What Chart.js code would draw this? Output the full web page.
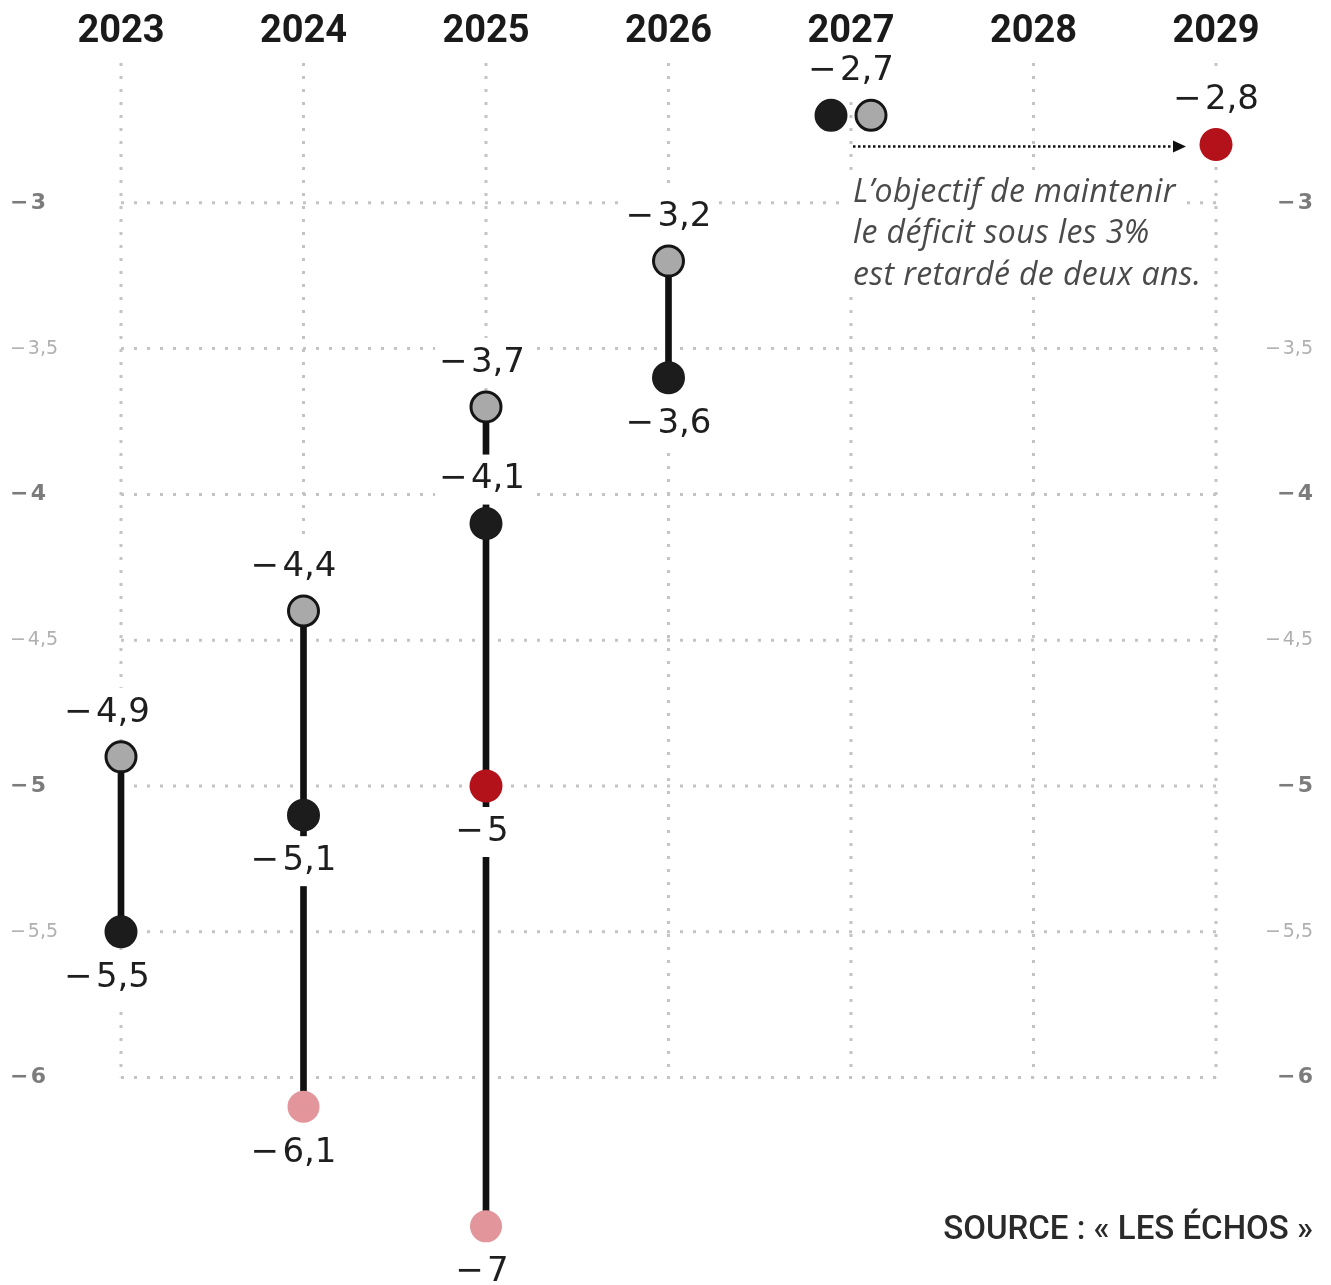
<!DOCTYPE html>
<html lang="fr">
<head>
  <meta charset="UTF-8" />
  <title>Déficit public</title>
  <script src="https://cdn.jsdelivr.net/npm/chart.js"></script>
  <style>
    body { margin: 0; background: #fff; }
    #wrap { width: 1331px; height: 1285px; position: relative; }
  </style>
</head>
<body>
  <div id="wrap"><canvas id="deficitChart"></canvas></div>

  <script>
    // données (déficit public, % du PIB)
    const years = ['2023', '2024', '2025', '2026', '2027', '2028', '2029'];
    const grey  = [-4.9, -4.4, -3.7, -3.2, -2.7, null, null];
    const black = [-5.5, -5.1, -4.1, -3.6, -2.7, null, null];
    const red   = [null, null, -5, null, null, null, -2.8];
    const pink  = [null, -6.1, -7, null, null, null, null];
    const yTicks = [-3, -3.5, -4, -4.5, -5, -5.5, -6];

    // position des étiquettes : au-dessus ou en dessous du point
    const sideGrey  = ['up', 'up', 'up', 'up', 'up', null, null];
    const sideBlack = ['down', 'down', 'up', 'down', 'up', null, null];
    const sideRed   = [null, null, 'down', null, null, null, 'up'];
    const sidePink  = [null, 'down', 'down', null, null, null, null];
    // léger décalage horizontal des étiquettes par année (px)
    const labelNudge = [-14, -10, -4, 0, 0, 0, 0];

    // l'axe est coupé sous -6,5 : le point à -7 est posé en bas
    const AXIS_FLOOR = -6.51;
    const plot = arr => arr.map(v => v === null ? null : Math.max(v, AXIS_FLOOR));

    const ranges = years.map((y, i) => {
      const vals = [grey[i], black[i], red[i], pink[i]].filter(v => v !== null).map(v => Math.max(v, AXIS_FLOOR));
      if (vals.length < 2 || Math.min(...vals) === Math.max(...vals)) return null;
      return [Math.min(...vals), Math.max(...vals)];
    });

    const fmt = v => '\u2212\u200A' + String(Math.abs(v)).replace('.', ',');
    const isInt = c => c.tick ? Number.isInteger(c.tick.value) : true;

    // grille en pointillés
    const gridPlugin = {
      id: 'grid',
      beforeDatasetsDraw(chart) {
        const { ctx, scales: { x, y } } = chart;
        ctx.save();
        ctx.strokeStyle = '#c4c4c4';
        ctx.lineWidth = 3;
        ctx.setLineDash([3, 10]);
        years.forEach((yr, i) => {
          const px = x.getPixelForValue(i);
          ctx.beginPath();
          ctx.moveTo(px, chart.chartArea.top + 6);
          ctx.lineTo(px, y.getPixelForValue(-6));
          ctx.stroke();
        });
        yTicks.forEach(v => {
          const py = y.getPixelForValue(v);
          ctx.beginPath();
          ctx.moveTo(x.getPixelForValue(0), py);
          ctx.lineTo(x.getPixelForValue(years.length - 1), py);
          ctx.stroke();
        });
        ctx.restore();
      }
    };

    // 2027 : les deux points identiques sont décalés côte à côte
    const dodgePlugin = {
      id: 'dodge',
      afterDatasetsUpdate(chart) {
        const g = chart.getDatasetMeta(1).data;
        const b = chart.getDatasetMeta(2).data;
        years.forEach((yr, i) => {
          if (grey[i] !== null && grey[i] === black[i]) {
            b[i].x -= 20;
            g[i].x += 20;
          }
        });
      }
    };

    // étiquettes de valeurs, annotation et source
    const labelPlugin = {
      id: 'labels',
      afterDatasetDraw(chart, args) {
        if (args.index !== 0) return;
        const { ctx, scales: { x, y } } = chart;
        ctx.save();
        ctx.font = '34px "DejaVu Sans"';
        ctx.textAlign = 'center';
        ctx.textBaseline = 'middle';
        const groups = [[grey, sideGrey], [black, sideBlack], [red, sideRed], [pink, sidePink]];
        groups.forEach(([vals, sides], gi) => {
          vals.forEach((v, i) => {
            if (v === null || !sides[i]) return;
            if (gi === 1 && grey[i] === v) return; // même valeur : une seule étiquette
            const px = x.getPixelForValue(i) + labelNudge[i];
            const py = y.getPixelForValue(Math.max(v, AXIS_FLOOR)) + (sides[i] === 'up' ? -44 : 46);
            const t = fmt(v);
            const w = ctx.measureText(t).width + 8;
            ctx.fillStyle = '#fff';
            ctx.fillRect(px - w / 2, py - 25, w, 50);
            ctx.fillStyle = '#1e1e1e';
            ctx.fillText(t, px, py);
          });
        });

        // flèche 2027 -> 2029
        const ax0 = x.getPixelForValue(4) + 2;
        const ax1 = x.getPixelForValue(6) - 32;
        const ay = y.getPixelForValue(-2.8) + 2;
        ctx.strokeStyle = '#111';
        ctx.lineWidth = 2.5;
        ctx.setLineDash([2.5, 2.5]);
        ctx.beginPath();
        ctx.moveTo(ax0, ay);
        ctx.lineTo(ax1 - 8, ay);
        ctx.stroke();
        ctx.setLineDash([]);
        ctx.fillStyle = '#111';
        ctx.beginPath();
        ctx.moveTo(ax1 + 2, ay);
        ctx.lineTo(ax1 - 11, ay - 6);
        ctx.lineTo(ax1 - 11, ay + 6);
        ctx.closePath();
        ctx.fill();

        // texte de l'annotation
        const note = ['L\u2019objectif de maintenir', 'le déficit sous les 3%', 'est retardé de deux ans.'];
        ctx.font = 'italic 32px "Open Sans"';
        ctx.letterSpacing = '0.4px';
        ctx.textAlign = 'left';
        note.forEach((line, k) => {
          const ly = ay + 46 + k * 41.5;
          const w = ctx.measureText(line).width;
          ctx.fillStyle = '#fff';
          ctx.fillRect(ax0 - 4, ly - 20, w + 8, 40);
          ctx.fillStyle = '#4a4a4a';
          ctx.fillText(line, ax0, ly);
        });
        ctx.letterSpacing = '0px';

        // source
        ctx.font = '500 33px Roboto';
        ctx.textAlign = 'right';
        ctx.fillStyle = '#2a2a2a';
        ctx.fillText('SOURCE : « LES ÉCHOS »', chart.width - 18, 1231);
        ctx.restore();
      }
    };

    const yTickStyle = {
      color: c => isInt(c) ? '#7c7c7c' : '#b0b0b0',
      font: c => isInt(c)
        ? { family: 'DejaVu Sans', size: 22, weight: 'bold' }
        : { family: 'DejaVu Sans', size: 19, weight: 'normal' },
      callback: v => '\u2212\u200A' + String(Math.abs(v)).replace('.', ','),
      crossAlign: 'far',
      padding: 0
    };

    const pointDs = (label, data, fill, border, radius, bw) => ({
      type: 'line',
      label: label,
      data: plot(data),
      showLine: false,
      pointRadius: radius,
      pointBackgroundColor: fill,
      pointBorderColor: border,
      pointBorderWidth: bw,
      clip: false,
      order: 1
    });

    new Chart(document.getElementById('deficitChart'), {
      data: {
        labels: years,
        datasets: [
          {
            type: 'bar',
            label: 'écart',
            data: ranges,
            backgroundColor: '#111',
            barThickness: 6,
            clip: false,
            order: 10
          },
          pointDs('gris', grey, '#a9a9a9', '#151515', 15, 3),
          pointDs('noir', black, '#1c1c1c', '#1c1c1c', 15.5, 2),
          pointDs('rouge', red, '#b3121b', '#b3121b', 16.5, 0),
          pointDs('rose', pink, '#e2959b', '#e2959b', 16, 0)
        ]
      },
      options: {
        responsive: true,
        maintainAspectRatio: false,
        animation: false,
        layout: { padding: { left: 10, right: 18, top: 0, bottom: 47 } },
        plugins: { legend: { display: false }, tooltip: { enabled: false } },
        scales: {
          x: {
            position: 'top',
            offset: false,
            grid: { display: false, drawTicks: false },
            border: { display: false },
            ticks: {
              color: '#1a1a1a',
              font: { family: 'Roboto', size: 38, weight: 'bold' },
              padding: 2,
              maxRotation: 0
            },
            afterFit: s => { s.height = 57; }
          },
          y: {
            position: 'left',
            min: -6.55,
            max: -2.5,
            grid: { display: false, drawTicks: false },
            border: { display: false },
            ticks: yTickStyle,
            afterBuildTicks: s => { s.ticks = yTicks.map(v => ({ value: v })); },
            afterFit: s => { s.width = 111; }
          },
          y2: {
            position: 'right',
            min: -6.55,
            max: -2.5,
            grid: { display: false, drawTicks: false },
            border: { display: false },
            ticks: yTickStyle,
            afterBuildTicks: s => { s.ticks = yTicks.map(v => ({ value: v })); },
            afterFit: s => { s.width = 97; }
          }
        }
      },
      plugins: [gridPlugin, dodgePlugin, labelPlugin]
    });
  </script>
</body>
</html>
